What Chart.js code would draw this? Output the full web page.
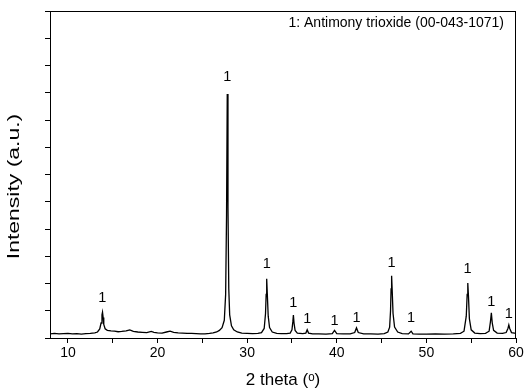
<!DOCTYPE html>
<html>
<head>
<meta charset="utf-8">
<script src="https://cdn.jsdelivr.net/npm/chart.js@4.4.1/dist/chart.umd.min.js"></script>
<style>
  html, body { margin: 0; padding: 0; background: #fff; }
  #wrap { width: 528px; height: 391px; }
</style>
</head>
<body>
<div id="wrap"><canvas id="xrdChart" width="528" height="391"></canvas></div>
<script>
// XRD trace (2 theta, intensity in a.u.)
const twoTheta = [8.0, 8.5, 9.0, 9.5, 10.0, 10.5, 11.0, 11.5, 12.0, 12.5, 13.0, 13.3, 13.55, 13.7, 13.8, 13.86, 13.93, 14.0, 14.15, 14.4,
  14.8, 15.2, 15.6, 16.0, 16.5, 16.9, 17.3, 17.8, 18.3, 18.8, 19.3, 19.6, 20.0, 20.5, 21.0, 21.4, 21.8, 22.3, 22.8, 23.3,
  23.8, 24.3, 24.8, 25.3, 25.8, 26.2, 26.6, 26.9, 27.2, 27.45, 27.6, 27.7, 27.78, 27.86, 27.95, 28.05, 28.25, 28.5, 28.9, 29.4,
  30.0, 30.6, 31.2, 31.6, 31.9, 32.05, 32.12, 32.18, 32.25, 32.35, 32.5, 32.8, 33.3, 33.8, 34.4, 34.8, 35.0, 35.1, 35.16, 35.23,
  35.35, 35.6, 36.2, 36.55, 36.7, 36.85, 37.3, 38.0, 38.8, 39.5, 39.75, 40.0, 40.7, 41.5, 42.0, 42.2, 42.4, 43.0, 43.8, 44.6,
  45.3, 45.7, 45.9, 46.0, 46.06, 46.12, 46.19, 46.28, 46.45, 46.8, 47.3, 48.0, 48.3, 48.5, 49.2, 50.0, 51.0, 52.0, 53.0, 53.8,
  54.2, 54.45, 54.55, 54.62, 54.7, 54.8, 55.0, 55.4, 56.0, 56.6, 57.0, 57.15, 57.25, 57.35, 57.5, 57.9, 58.5, 58.9, 59.1, 59.2,
  59.3, 59.5, 60.0];
const intensity = [0.15, 0.17, 0.15, 0.16, 0.17, 0.15, 0.16, 0.14, 0.16, 0.17, 0.19, 0.22, 0.33, 0.55, 0.85, 0.95, 0.75, 0.5, 0.34, 0.28,
  0.26, 0.25, 0.23, 0.24, 0.26, 0.30, 0.24, 0.22, 0.21, 0.20, 0.24, 0.21, 0.19, 0.18, 0.22, 0.25, 0.21, 0.19, 0.18, 0.17,
  0.17, 0.16, 0.15, 0.15, 0.17, 0.19, 0.22, 0.28, 0.38, 0.65, 1.6, 4.5, 8.95, 4.8, 1.8, 0.85, 0.45, 0.3, 0.22, 0.18,
  0.17, 0.16, 0.17, 0.2, 0.35, 0.9, 1.6, 2.17, 1.6, 0.8, 0.38, 0.22, 0.17, 0.16, 0.16, 0.18, 0.3, 0.6, 0.84, 0.55,
  0.28, 0.18, 0.16, 0.18, 0.3, 0.18, 0.15, 0.15, 0.14, 0.16, 0.28, 0.16, 0.15, 0.15, 0.2, 0.37, 0.2, 0.15, 0.15, 0.14,
  0.16, 0.22, 0.4, 1.0, 1.8, 2.28, 1.7, 0.9, 0.4, 0.22, 0.16, 0.15, 0.25, 0.15, 0.14, 0.14, 0.15, 0.14, 0.15, 0.17,
  0.25, 0.8, 1.6, 2.02, 1.5, 0.7, 0.3, 0.18, 0.16, 0.17, 0.25, 0.6, 0.92, 0.55, 0.28, 0.18, 0.17, 0.2, 0.35, 0.48,
  0.35, 0.2, 0.17];

// "1" markers above the peaks
const peakPos = [13.84, 27.78, 32.18, 35.16, 36.7, 39.75, 42.2, 46.1, 48.3, 54.6, 57.25, 59.2];
const peakLabelY = [1.47, 9.58, 2.72, 1.28, 0.70, 0.62, 0.75, 2.75, 0.73, 2.53, 1.32, 0.88];
const peakText = '1';
const phaseNote = '1: Antimony trioxide (00-043-1071)';
const yTitle = 'Intensity (a.u.)';

const xTicks = [10, 20, 30, 40, 50, 60];

const points = twoTheta.map((t, i) => ({x: t, y: intensity[i]}));
const FONT = '"Liberation Sans", Arial, sans-serif';

const frameAndLabels = {
  id: 'frameAndLabels',
  afterDatasetsDraw(chart) {
    const {ctx, chartArea: a, scales: {x, y}} = chart;
    ctx.save();
    ctx.strokeStyle = '#000';
    ctx.lineWidth = 1;
    ctx.strokeRect(a.left + 0.5, a.top + 0.5, a.right - a.left - 1, a.bottom - a.top);
    ctx.fillStyle = '#000';
    ctx.font = '14.5px ' + FONT;
    ctx.textAlign = 'center';
    ctx.textBaseline = 'middle';
    peakPos.forEach((p, i) => {
      ctx.fillText(peakText, x.getPixelForValue(p), y.getPixelForValue(peakLabelY[i]));
    });
    ctx.textAlign = 'right';
    ctx.font = '14px ' + FONT;
    ctx.fillText(phaseNote, a.right - 12, a.top + 12);
    // y title, stretched along its length like the reference
    ctx.translate(14, (a.top + a.bottom) / 2 + 12);
    ctx.rotate(-Math.PI / 2);
    ctx.scale(1.35, 1);
    ctx.textAlign = 'center';
    ctx.font = '17px ' + FONT;
    ctx.fillText(yTitle, 0, 0);
    ctx.restore();
  }
};

new Chart(document.getElementById('xrdChart').getContext('2d'), {
  type: 'scatter',
  data: {
    datasets: [{
      data: points,
      showLine: true,
      borderColor: '#000',
      borderWidth: 1.3,
      pointRadius: 0,
      tension: 0
    }]
  },
  options: {
    responsive: false,
    animation: false,
    layout: {padding: {top: 11, right: 12, left: 0, bottom: 0}},
    plugins: {legend: {display: false}, tooltip: {enabled: false}},
    scales: {
      x: {
        type: 'linear', min: 8, max: 60,
        afterFit(s) { s.height = 53; },
        afterBuildTicks(s) {
          const t = [];
          for (let v = 10; v <= 60; v += 5) t.push({value: v});
          s.ticks = t;
        },
        ticks: {
          color: '#000', padding: 2,
          font: {size: 14, family: FONT},
          callback: v => xTicks.includes(v) ? String(v) : ''
        },
        grid: {drawOnChartArea: false, drawTicks: true, tickLength: 5, color: '#000'},
        border: {display: true, color: '#000', width: 1},
        title: {
          display: true, text: '2 theta (ᵒ)', color: '#000',
          font: {size: 17, family: FONT},
          padding: {top: 0, bottom: 0}
        }
      },
      y: {
        min: 0, max: 12,
        afterFit(s) { s.width = 50; },
        ticks: {stepSize: 1, display: true, callback: () => ''},
        grid: {drawOnChartArea: false, drawTicks: true, tickLength: 5, color: '#000'},
        border: {display: true, color: '#000', width: 1}
      }
    }
  },
  plugins: [frameAndLabels]
});
</script>
</body>
</html>
